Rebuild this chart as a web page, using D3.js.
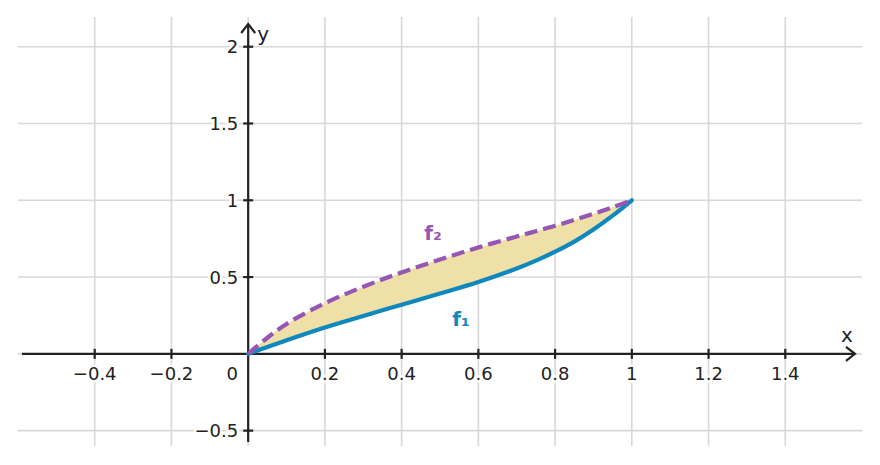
<!DOCTYPE html>
<html>
<head>
<meta charset="utf-8">
<script src="https://cdn.jsdelivr.net/npm/d3@7"></script>
<style>
    body { margin: 0; background: #fff; }
    text { font-family: "DejaVu Sans", sans-serif; fill: #222; }
    .tick-label { font-size: 18px; paint-order: stroke; stroke: #fff; stroke-width: 5px; stroke-linejoin: round; }
</style>
</head>
<body>
<div id="chart"></div>
<script>
const xs = [0, 0.05, 0.1, 0.2, 0.3, 0.4, 0.5, 0.6, 0.7, 0.75, 0.8, 0.85, 0.9, 0.95, 1];
const f1 = [0, 0.045, 0.089, 0.172, 0.247, 0.32, 0.393, 0.468, 0.556, 0.607, 0.665, 0.731, 0.81, 0.9, 1];
const f2 = [0, 0.105, 0.195, 0.33, 0.437, 0.53, 0.614, 0.693, 0.764, 0.799, 0.834, 0.872, 0.912, 0.955, 1];

// tick values
const xTicks = [-0.4, -0.2, 0.2, 0.4, 0.6, 0.8, 1, 1.2, 1.4];
const yTicks = [-0.5, 0.5, 1, 1.5, 2];
const xGrid = [-0.4, -0.2, 0, 0.2, 0.4, 0.6, 0.8, 1, 1.2, 1.4];
const yGrid = [-0.5, 0, 0.5, 1, 1.5, 2];

const width = 880, height = 465;

const svg = d3.select('#chart').append('svg')
    .attr('width', width)
    .attr('height', height);

const x = d3.scaleLinear().domain([-0.6, 1.6]).range([18, 862]);
const y = d3.scaleLinear().domain([-0.6, 2.2]).range([446, 16]);

// grid
svg.append('g').selectAll('line')
    .data(xGrid)
    .enter().append('line')
    .attr('x1', d => x(d)).attr('x2', d => x(d))
    .attr('y1', y(2.2) + 1).attr('y2', y(-0.6))
    .attr('stroke', '#d8d8d8')
    .attr('stroke-width', 1.6);

svg.append('g').selectAll('line')
    .data(yGrid)
    .enter().append('line')
    .attr('y1', d => y(d)).attr('y2', d => y(d))
    .attr('x1', x(-0.6)).attr('x2', x(1.6))
    .attr('stroke', '#d8d8d8')
    .attr('stroke-width', 1.6);

// region between the curves
const pts = xs.map((d, i) => ({x: d, a: f1[i], b: f2[i]}));
const curve = d3.curveCatmullRom.alpha(0.5);

svg.append('path')
    .datum(pts)
    .attr('d', d3.area()
        .x(d => x(d.x))
        .y0(d => y(d.a))
        .y1(d => y(d.b))
        .curve(curve))
    .attr('fill', '#eee0a6');

// axes
const axisColor = '#222';
const x0 = x(0), y0 = y(0);

svg.append('line')
    .attr('x1', 22).attr('x2', 855)
    .attr('y1', y0).attr('y2', y0)
    .attr('stroke', axisColor).attr('stroke-width', 2.2);

svg.append('line')
    .attr('x1', x0).attr('x2', x0)
    .attr('y1', 442).attr('y2', 24)
    .attr('stroke', axisColor).attr('stroke-width', 2.2);

// arrow heads
svg.append('path')
    .attr('d', `M${855 - 9},${y0 - 7} L${855},${y0} L${855 - 9},${y0 + 7}`)
    .attr('fill', 'none').attr('stroke', axisColor).attr('stroke-width', 2.2);

svg.append('path')
    .attr('d', `M${x0 - 7},${24 + 9} L${x0},${24} L${x0 + 7},${24 + 9}`)
    .attr('fill', 'none').attr('stroke', axisColor).attr('stroke-width', 2.2);

// ticks
svg.append('g').selectAll('line')
    .data(xTicks)
    .enter().append('line')
    .attr('x1', d => x(d)).attr('x2', d => x(d))
    .attr('y1', y0 - 5).attr('y2', y0 + 5)
    .attr('stroke', axisColor).attr('stroke-width', 2.2);

svg.append('g').selectAll('line')
    .data(yTicks)
    .enter().append('line')
    .attr('y1', d => y(d)).attr('y2', d => y(d))
    .attr('x1', x0 - 5).attr('x2', x0 + 5)
    .attr('stroke', axisColor).attr('stroke-width', 2.2);

const fmt = d => String(d).replace('-', '\u2212');

// tick labels
svg.append('g').selectAll('text')
    .data(xTicks)
    .enter().append('text')
    .attr('class', 'tick-label')
    .attr('x', d => x(d))
    .attr('y', y0 + 26)
    .attr('text-anchor', 'middle')
    .text(fmt);

svg.append('g').selectAll('text')
    .data(yTicks)
    .enter().append('text')
    .attr('class', 'tick-label')
    .attr('x', x0 - 10)
    .attr('y', d => y(d) + 6.5)
    .attr('text-anchor', 'end')
    .text(fmt);

svg.append('text')
    .attr('class', 'tick-label')
    .attr('x', x0 - 16)
    .attr('y', y0 + 26)
    .attr('text-anchor', 'middle')
    .text('0');

// axis names
svg.append('text')
    .attr('x', 847).attr('y', 342)
    .attr('text-anchor', 'middle')
    .style('font-size', '20px')
    .text('x');

svg.append('text')
    .attr('x', x0 + 9).attr('y', 41)
    .style('font-size', '20px')
    .text('y');

// curves
const line = key => d3.line()
    .x(d => x(d.x))
    .y(d => y(d[key]))
    .curve(curve);

svg.append('path')
    .datum(pts)
    .attr('d', line('a'))
    .attr('fill', 'none')
    .attr('stroke', '#0f88bd')
    .attr('stroke-width', 4.2)
    .attr('stroke-linecap', 'round');

svg.append('path')
    .datum(pts)
    .attr('d', line('b'))
    .attr('fill', 'none')
    .attr('stroke', '#9656b4')
    .attr('stroke-width', 4.2)
    .attr('stroke-dasharray', '13,6');

// curve labels
svg.append('text')
    .attr('x', x(0.482)).attr('y', y(0.742))
    .attr('text-anchor', 'middle')
    .style('font-size', '20px')
    .style('font-weight', 'bold')
    .style('fill', '#9656b4')
    .text('f\u2082');

svg.append('text')
    .attr('x', x(0.555)).attr('y', y(0.182))
    .attr('text-anchor', 'middle')
    .style('font-size', '20px')
    .style('font-weight', 'bold')
    .style('fill', '#0f88bd')
    .text('f\u2081');
</script>
</body>
</html>
